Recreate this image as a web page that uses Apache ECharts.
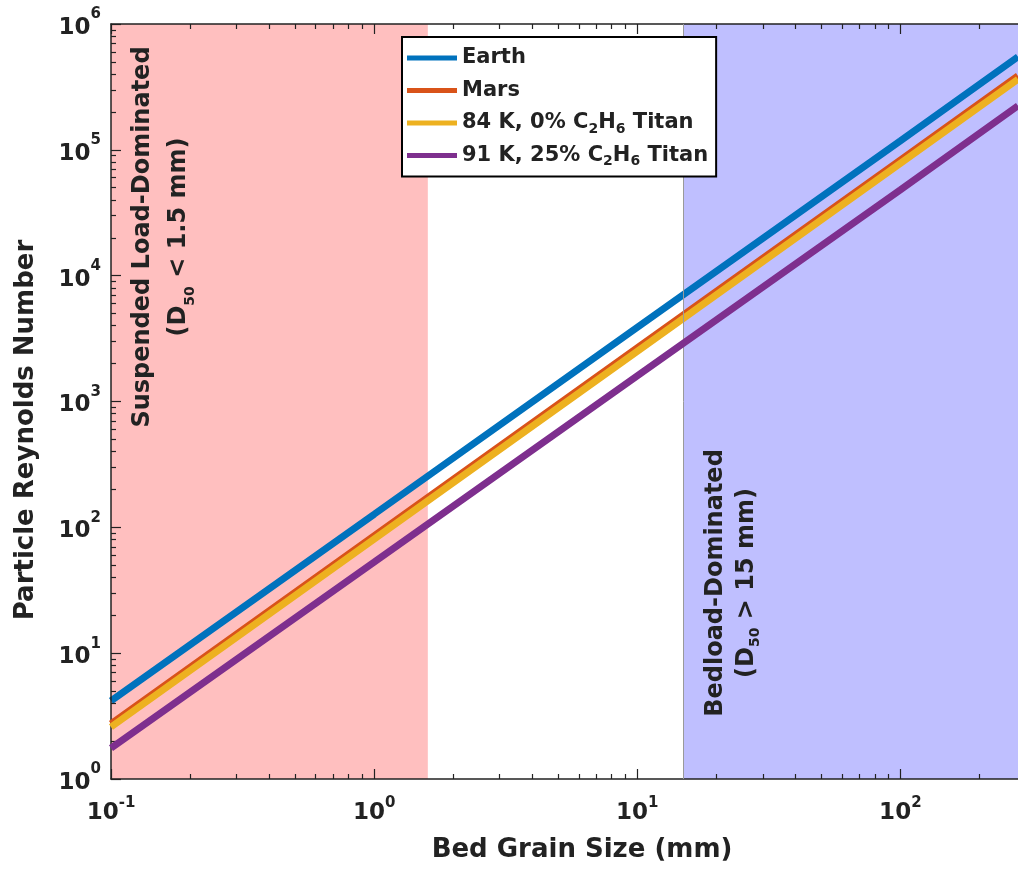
<!DOCTYPE html>
<html>
<head>
<meta charset="utf-8">
<title>Particle Reynolds Number vs Bed Grain Size</title>
<script src="https://cdn.jsdelivr.net/npm/echarts@6/dist/echarts.min.js"></script>
<style>
  html, body { margin: 0; padding: 0; background: #fff; }
  #main { width: 1018px; height: 878px; }
</style>
</head>
<body>
<div id="main"></div>
<script>
// values (log-log, straight lines)
var grainSize = [0.1, 1, 10, 100, 280];
var earthRe = [4.17, 127, 3880, 118000, 549000];
var marsRe = [2.74, 85.5, 2670, 83000, 387000];
var titan84Re = [2.59, 80.5, 2500, 78000, 364000];
var titan91Re = [1.76, 53, 1600, 48000, 224000];

var seriesNames = ['Earth', 'Mars', '84 K, 0% C2H6 Titan', '91 K, 25% C2H6 Titan'];
var seriesColors = ['#0072BD', '#D95319', '#EDB120', '#7E2F8E'];

var xMin = 0.1, xMax = 280;
var xMajor = [0.1, 1, 10, 100];
var xMinor = [0.2, 0.3, 0.4, 0.5, 0.6, 0.7, 0.8, 0.9, 2, 3, 4, 5, 6, 7, 8, 9,
  20, 30, 40, 50, 60, 70, 80, 90, 200];
var yMajor = [1, 10, 100, 1000, 10000, 100000, 1000000];
var yMinor = [];
for (var k = 0; k < 6; k++) {
  for (var m = 2; m <= 9; m++) yMinor.push(m * Math.pow(10, k));
}

var suspendedMax = 1.6;  // red band 0.1 .. 1.6 mm
var bedloadMin = 15;     // blue band 15 mm ..

var FONT = 'DejaVu Sans';
var INK = '#222';

function pairs(xs, ys) {
  return xs.map(function (x, i) { return [x, ys[i]]; });
}

function powLabel(v) {
  var e = Math.round(Math.log(v) / Math.LN10);
  return '{b|10}{sup|' + e + '}';
}

var labelRich = {
  b: { fontFamily: FONT, fontWeight: 'bold', fontSize: 23, lineHeight: 34, color: INK },
  sup: { fontFamily: FONT, fontWeight: 'bold', fontSize: 15, lineHeight: 16, verticalAlign: 'top', color: INK }
};
var yLabelRich = {
  b: { fontFamily: FONT, fontWeight: 'bold', fontSize: 23, lineHeight: 34, padding: [8, 0, 0, 0], color: INK },
  sup: { fontFamily: FONT, fontWeight: 'bold', fontSize: 15, lineHeight: 16, verticalAlign: 'top', color: INK }
};

function xAx(pos, ticks, len, withLine, withLabel) {
  return {
    type: 'log', logBase: 10, min: xMin, max: xMax, position: pos, z: 3,
    axisLine: { show: withLine, lineStyle: { color: INK, width: 1.5 } },
    axisTick: { inside: true, length: len, customValues: ticks, lineStyle: { color: INK, width: 1.2 } },
    axisLabel: withLabel ? { customValues: xMajor, margin: 17, formatter: powLabel, rich: labelRich } : { show: false },
    splitLine: { show: false }
  };
}

function yAx(ticks, len, withLine, withLabel) {
  return {
    type: 'log', logBase: 10, min: 1, max: 1000000, position: 'left', z: 3,
    axisLine: { show: withLine, lineStyle: { color: INK, width: 1.5 } },
    axisTick: { inside: true, length: len, customValues: ticks, lineStyle: { color: INK, width: 1.2 } },
    axisLabel: withLabel ? { customValues: yMajor, margin: 10, formatter: powLabel, rich: yLabelRich } : { show: false },
    splitLine: { show: false }
  };
}

var dataSets = [earthRe, marsRe, titan84Re, titan91Re];

var series = seriesNames.map(function (name, i) {
  var s = {
    name: name,
    type: 'line',
    data: pairs(grainSize, dataSets[i]),
    showSymbol: false,
    symbol: 'none',
    color: seriesColors[i],
    lineStyle: { width: 7, color: seriesColors[i] },
    animation: false,
    z: 2 + i
  };
  if (i === 0) {
    s.markArea = {
      silent: true,
      data: [
        [{ xAxis: xMin, itemStyle: { color: '#FFBFBF' } }, { xAxis: suspendedMax }],
        [{ xAxis: bedloadMin, itemStyle: { color: '#BFBFFF' } }, { xAxis: xMax }]
      ]
    };
    s.markLine = {
      silent: true,
      symbol: 'none',
      label: { show: false },
      lineStyle: { color: '#9a9a9a', width: 1, type: 'solid' },
      data: [{ xAxis: bedloadMin }]
    };
  }
  return s;
});

var subRich = {
  sub: { fontFamily: FONT, fontWeight: 'bold', fontSize: 14, lineHeight: 14, verticalAlign: 'bottom', color: INK }
};

var chart = echarts.init(document.getElementById('main'));
chart.setOption({
  animation: false,
  grid: { left: 111, top: 24, bottom: 99, right: 0 },
  xAxis: [
    xAx('bottom', xMajor, 10, true, true),
    xAx('bottom', xMinor, 5, false, false),
    xAx('top', xMajor, 10, true, false),
    xAx('top', xMinor, 5, false, false)
  ],
  yAxis: [
    yAx(yMajor, 10, true, true),
    yAx(yMinor, 5, false, false)
  ],
  legend: {
    orient: 'vertical',
    left: 402, top: 37,
    z: 20,
    icon: 'rect',
    itemWidth: 50, itemHeight: 5, itemGap: 6.5,
    padding: [8, 8, 8, 5],
    backgroundColor: '#fff',
    borderColor: '#000', borderWidth: 2,
    data: seriesNames,
    formatter: function (name) {
      return name.replace('C2H6', 'C{sub|2}H{sub|6}');
    },
    textStyle: { fontFamily: FONT, fontWeight: 'bold', fontSize: 21, lineHeight: 26, color: INK, rich: subRich }
  },
  graphic: [
    {
      type: 'text', x: 26, y: 430, rotation: Math.PI / 2, z: 10,
      style: { text: 'Particle Reynolds Number', fontFamily: FONT, fontWeight: 'bold', fontSize: 26,
        fill: INK, textAlign: 'center', textVerticalAlign: 'middle' }
    },
    {
      type: 'text', x: 582, y: 850, z: 10,
      style: { text: 'Bed Grain Size (mm)', fontFamily: FONT, fontWeight: 'bold', fontSize: 26,
        fill: INK, textAlign: 'center', textVerticalAlign: 'middle' }
    },
    {
      type: 'text', x: 161, y: 237, rotation: Math.PI / 2, z: 10,
      style: { text: 'Suspended Load-Dominated\n(D{sub|50} < 1.5 mm)', fontFamily: FONT, fontWeight: 'bold',
        fontSize: 24, lineHeight: 36, fill: INK, textAlign: 'center', textVerticalAlign: 'middle',
        rich: { sub: { fontFamily: FONT, fontWeight: 'bold', fontSize: 14, lineHeight: 14, verticalAlign: 'bottom', fill: INK } } }
    },
    {
      type: 'text', x: 731, y: 583, rotation: Math.PI / 2, z: 10,
      style: { text: 'Bedload-Dominated\n(D{sub|50} > 15 mm)', fontFamily: FONT, fontWeight: 'bold',
        fontSize: 24, lineHeight: 31, fill: INK, textAlign: 'center', textVerticalAlign: 'middle',
        rich: { sub: { fontFamily: FONT, fontWeight: 'bold', fontSize: 14, lineHeight: 14, verticalAlign: 'bottom', fill: INK } } }
    }
  ],
  series: series
});
</script>
</body>
</html>
